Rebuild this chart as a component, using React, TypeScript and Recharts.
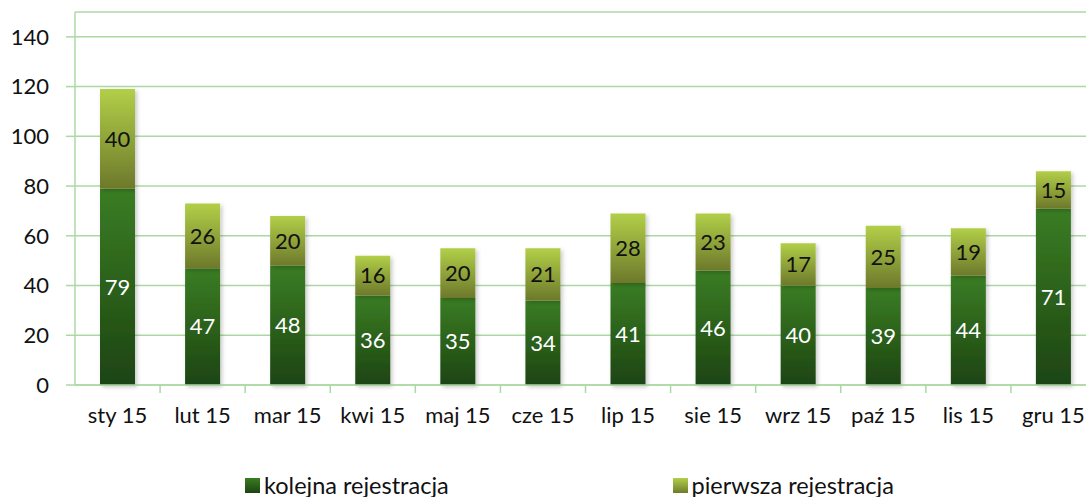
import { Bar, BarChart, CartesianGrid, LabelList, Legend, XAxis, YAxis } from "recharts";

const MONTHS = ["sty 15", "lut 15", "mar 15", "kwi 15", "maj 15", "cze 15", "lip 15", "sie 15", "wrz 15", "paź 15", "lis 15", "gru 15"];
const KOLEJNA = [79, 47, 48, 36, 35, 34, 41, 46, 40, 39, 44, 71];
const PIERWSZA = [40, 26, 20, 16, 20, 21, 28, 23, 17, 25, 19, 15];
const Y_TICKS = [0, 20, 40, 60, 80, 100, 120, 140];

const FONT = "Lato, 'Open Sans', sans-serif";
const GRID = "#acd8a4";

const data = MONTHS.map((m, i) => ({ month: m, kolejna: KOLEJNA[i], pierwsza: PIERWSZA[i] }));

function MonthTick(props: any) {
  const { x, y, payload, width, visibleTicksCount } = props;
  const band = width / visibleTicksCount;
  const axisY = y - 22;
  return (
    <g>
      <line x1={x + band / 2} x2={x + band / 2} y1={axisY} y2={axisY + 8} stroke={GRID} strokeWidth={1.5} />
      <text x={x} y={y} dy="0.71em" textAnchor="middle" fill="#111" fontSize={22} fontFamily={FONT}>
        {payload.value}
      </text>
    </g>
  );
}

function LegendBox() {
  const items = [
    { label: "kolejna rejestracja", grad: "linear-gradient(#3a7d22, #1d4412)" },
    { label: "pierwsza rejestracja", grad: "linear-gradient(#b2cf48, #6f7b2c)" },
  ];
  return (
    <div style={{ height: 48, display: "flex", paddingLeft: 245, alignItems: "flex-end", fontFamily: FONT, fontSize: 23.5, color: "#111" }}>
      {items.map((it) => (
        <div key={it.label} style={{ width: 435, display: "flex", alignItems: "center", lineHeight: "24px" }}>
          <span style={{ width: 15, height: 15, background: it.grad, display: "inline-block", marginRight: 4 }} />
          {it.label}
        </div>
      ))}
    </div>
  );
}

export default function App() {
  return (
    <div style={{ width: 1086, height: 497, overflow: "hidden", position: "relative" }}>
      <style>{"body{margin:0}"}</style>
      <BarChart
        width={1100}
        height={497}
        data={data}
        margin={{ top: 12, right: 4, bottom: 0, left: 0 }}
        barSize={35}
      >
        <defs>
          <linearGradient id="gK" x1="0" y1="0" x2="0" y2="1">
            <stop offset="0%" stopColor="#3a7d24" />
            <stop offset="100%" stopColor="#1d4412" />
          </linearGradient>
          <linearGradient id="gP" x1="0" y1="0" x2="0" y2="1">
            <stop offset="0%" stopColor="#b2cf48" />
            <stop offset="100%" stopColor="#6d792b" />
          </linearGradient>
          <filter id="sh" x="-20%" y="-20%" width="150%" height="150%">
            <feDropShadow dx="2" dy="2" stdDeviation="2" floodColor="#000" floodOpacity="0.22" />
          </filter>
        </defs>
        <CartesianGrid vertical={false} stroke={GRID} strokeWidth={1.5} />
        <XAxis
          dataKey="month"
          axisLine={{ stroke: GRID, strokeWidth: 1.5 }}
          tickLine={false}
          tickSize={8}
          tickMargin={14}
          height={64}
          interval={0}
          tick={<MonthTick />}
        />
        <YAxis
          domain={[0, 150]}
          ticks={Y_TICKS}
          width={75}
          axisLine={{ stroke: GRID, strokeWidth: 1.5 }}
          tickLine={{ stroke: GRID, strokeWidth: 1.5 }}
          tickSize={9}
          tickMargin={17}
          tick={{ fill: "#111", fontSize: 22, fontFamily: FONT }}
        />
        <Legend verticalAlign="bottom" content={<LegendBox />} wrapperStyle={{ left: 0, width: 1100 }} />
        <Bar dataKey="kolejna" stackId="a" fill="url(#gK)" filter="url(#sh)" isAnimationActive={false}>
          <LabelList dataKey="kolejna" position="center" fill="#fff" fontSize={22} fontFamily={FONT} />
        </Bar>
        <Bar dataKey="pierwsza" stackId="a" fill="url(#gP)" filter="url(#sh)" isAnimationActive={false}>
          <LabelList dataKey="pierwsza" position="center" fill="#111" fontSize={22} fontFamily={FONT} />
        </Bar>
      </BarChart>
    </div>
  );
}
